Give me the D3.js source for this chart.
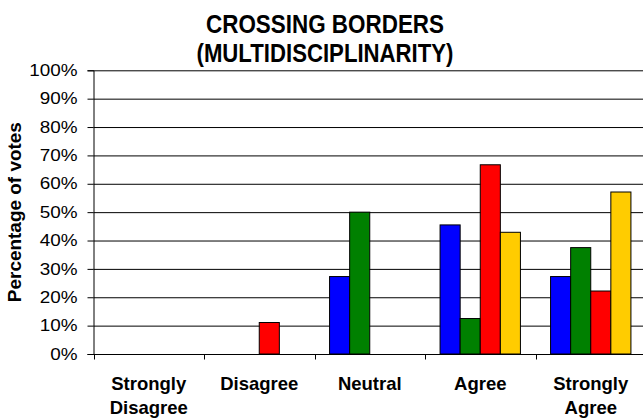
<!DOCTYPE html>
<html>
<head>
<meta charset="utf-8">
<script src="https://cdn.jsdelivr.net/npm/d3@7"></script>
<style>
  html, body { margin: 0; padding: 0; background: #fff; }
  svg { display: block; font-family: "Liberation Sans", Arial, sans-serif; }
</style>
</head>
<body>
<svg id="chart" width="643" height="419"></svg>
<script>
// Survey answers (share of votes per group)
const categories = ["Strongly Disagree", "Disagree", "Neutral", "Agree", "Strongly Agree"];
const categoryLines = [["Strongly", "Disagree"], ["Disagree"], ["Neutral"], ["Agree"], ["Strongly", "Agree"]];
const seriesNames = ["Group 1", "Group 2", "Group 3", "Group 4"];
const seriesColors = ["#0000FF", "#008000", "#FF0000", "#FFCC00"];
const group1 = [0, 0, 27.3, 45.5, 27.3];
const group2 = [0, 0, 50.0, 12.5, 37.5];
const group3 = [0, 11.1, 0, 66.7, 22.2];
const group4 = [0, 0, 0, 42.9, 57.1];
const yTicks = [0, 10, 20, 30, 40, 50, 60, 70, 80, 90, 100];
const titleLines = ["CROSSING BORDERS", "(MULTIDISCIPLINARITY)"];
const yTitle = "Percentage of votes";

const seriesValues = [group1, group2, group3, group4];

const svg = d3.select("#chart");
const margin = { left: 93.5, right: 646, top: 70.3, bottom: 354 };

const y = d3.scaleLinear().domain([0, 100]).range([margin.bottom, margin.top]);
const x0 = d3.scaleBand().domain(categories).range([margin.left, margin.right]);
const bw = x0.bandwidth();
const barW = bw / 5.5;
const x1 = d3.scaleBand().domain(seriesNames).range([0.75 * barW, bw - 0.75 * barW]);

// Horizontal gridlines
svg.append("g")
  .selectAll("line")
  .data(yTicks.filter(d => d > 0))
  .join("line")
  .attr("x1", margin.left)
  .attr("x2", 643)
  .attr("y1", d => y(d) + 0.5)
  .attr("y2", d => y(d) + 0.5)
  .attr("stroke", "#000")
  .attr("stroke-width", 1);

// Bars
const groups = svg.append("g")
  .selectAll("g")
  .data(categories)
  .join("g")
  .attr("transform", d => `translate(${x0(d)},0)`);

groups.selectAll("rect")
  .data((c, i) => seriesNames.map((s, j) => ({ s, v: seriesValues[j][i], color: seriesColors[j] })))
  .join("rect")
  .filter(d => d.v > 0)
  .attr("x", d => x1(d.s))
  .attr("y", d => y(d.v))
  .attr("width", x1.bandwidth())
  .attr("height", d => y(0) - y(d.v))
  .attr("fill", d => d.color)
  .attr("stroke", "#000")
  .attr("stroke-width", 1);

// Y axis
const yAxis = svg.append("g")
  .attr("transform", `translate(${Math.round(margin.left) - 0.5},0)`)
  .call(d3.axisLeft(y).tickValues(yTicks).tickFormat(d => d + "%").tickSize(6).tickPadding(10));
yAxis.select(".domain").attr("stroke", "#000");
yAxis.selectAll(".tick line").attr("stroke", "#000");
yAxis.selectAll(".tick text")
  .attr("font-size", 16)
  .attr("fill", "#000")
  .attr("font-family", "Liberation Sans, Arial, sans-serif")
  .each(function () {
    const w = this.getComputedTextLength();
    d3.select(this).attr("textLength", w * 1.18).attr("lengthAdjust", "spacingAndGlyphs");
  });

// X axis
const xAxis = svg.append("g")
  .attr("transform", `translate(0,${Math.round(y(0)) + 0.5})`);
xAxis.append("line")
  .attr("x1", margin.left).attr("x2", 643)
  .attr("stroke", "#000");
xAxis.selectAll("line.tick")
  .data(categories)
  .join("line")
  .attr("class", "tick")
  .attr("x1", d => Math.round(x0(d)) + 0.5)
  .attr("x2", d => Math.round(x0(d)) + 0.5)
  .attr("y1", 0).attr("y2", 5)
  .attr("stroke", "#000");

// Category labels
svg.append("g")
  .selectAll("text")
  .data(categories)
  .join("text")
  .attr("text-anchor", "middle")
  .attr("font-size", 18.5)
  .attr("font-weight", "bold")
  .attr("fill", "#000")
  .each(function (d, i) {
    const t = d3.select(this);
    categoryLines[i].forEach((line, k) => {
      t.append("tspan")
        .attr("x", x0(d) + bw / 2)
        .attr("y", 390 + k * 24)
        .text(line);
    });
  });

// Title
const titleWidths = [238, 257];
svg.append("g")
  .selectAll("text")
  .data(titleLines)
  .join("text")
  .attr("x", 325)
  .attr("y", (d, i) => 32.7 + i * 29)
  .attr("text-anchor", "middle")
  .attr("font-size", 26)
  .attr("font-weight", "bold")
  .attr("fill", "#000")
  .attr("textLength", (d, i) => titleWidths[i])
  .attr("lengthAdjust", "spacingAndGlyphs")
  .text(d => d);

// Y axis title
svg.append("text")
  .attr("transform", `translate(21,${(margin.top + margin.bottom) / 2}) rotate(-90)`)
  .attr("text-anchor", "middle")
  .attr("font-size", 17.5)
  .attr("font-weight", "bold")
  .attr("fill", "#000")
  .attr("textLength", 180)
  .attr("lengthAdjust", "spacingAndGlyphs")
  .text(yTitle);
</script>
</body>
</html>
